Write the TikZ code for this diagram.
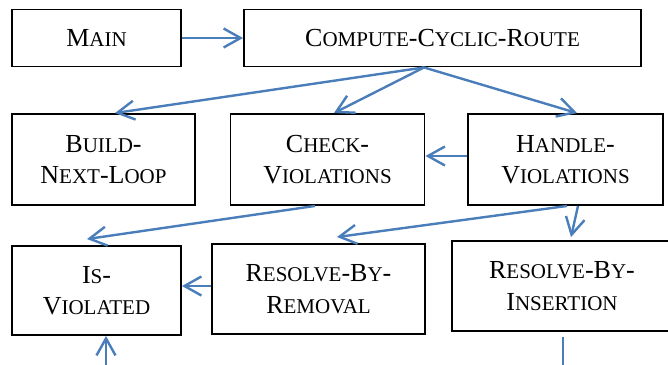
\documentclass[tikz,border=0pt]{standalone}
\usepackage{fontspec}
\setmainfont{Liberation Serif}
\usepackage{tikz}
\usetikzlibrary{arrows.meta}
\definecolor{cblue}{RGB}{74,126,187}
\newcommand{\lowcap}[1]{{\fontsize{21pt}{31.5pt}\selectfont #1}}

\begin{document}
\begin{tikzpicture}[x=1pt,y=1pt,>={Straight Barb[length=17pt,width=19pt]},
  box node/.style={rectangle,draw=black,line width=1.9pt,align=center,inner sep=0pt,
    font=\fontsize{26pt}{31.5pt}\selectfont},
  call/.style={draw=cblue,line width=2.4pt,->}]
  \useasboundingbox (0,0) rectangle (668,-364);
  \node[box node,minimum width=169pt,minimum height=57pt] (main) at (96.5,-38) {M\lowcap{AIN}};
  \node[box node,minimum width=397pt,minimum height=57pt,node distance=346pt] (ccr) [right of=main]
    {C\lowcap{OMPUTE}-C\lowcap{YCLIC}-R\lowcap{OUTE}};
  \node[box node,minimum width=183pt,minimum height=91pt,node distance=121.5pt] (build) [below of=main,xshift=7pt]
    {B\lowcap{UILD}-\\N\lowcap{EXT}-L\lowcap{OOP}};
  \node[box node,minimum width=194pt,minimum height=91pt,node distance=224pt] (check) [right of=build]
    {C\lowcap{HECK}-\\V\lowcap{IOLATIONS}};
  \node[box node,minimum width=195pt,minimum height=91pt,node distance=238pt] (handle) [right of=check]
    {H\lowcap{ANDLE}-\\V\lowcap{IOLATIONS}};
  \node[box node,minimum width=169pt,minimum height=89pt,node distance=131pt] (isv) [below of=build,xshift=-7pt]
    {I\lowcap{S}-\\V\lowcap{IOLATED}};
  \node[box node,minimum width=213pt,minimum height=90pt,node distance=222pt] (rbr) [right of=isv,yshift=1.5pt]
    {R\lowcap{ESOLVE}-B\lowcap{Y}-\\R\lowcap{EMOVAL}};
  \node[box node,minimum width=220pt,minimum height=90pt,node distance=243.5pt] (rbi) [right of=rbr,yshift=3pt]
    {R\lowcap{ESOLVE}-B\lowcap{Y}-\\I\lowcap{NSERTION}};

  % calls leaving the picture at the bottom
  \coordinate (isvfeed) at (106,-372);
  \coordinate (rbiexit) at (562.7,-372);

  \path[call]
    (main) edge (ccr)
    ([xshift=-18.5pt]ccr.south) edge ([xshift=11.5pt]build.north)
    ([xshift=-18.5pt]ccr.south) edge ([xshift=6.5pt]check.north)
    ([xshift=-18.5pt]ccr.south) edge ([xshift=11.5pt]handle.north)
    ([yshift=3.5pt]handle.west) edge ([yshift=3.5pt]check.east)
    ([xshift=-12.5pt]check.south) edge ([xshift=-9.5pt,yshift=6pt]isv.north)
    ([xshift=1.5pt]handle.south) edge ([xshift=18.5pt,yshift=6pt]rbr.north)
    ([xshift=12.5pt]handle.south) edge ([xshift=9pt,yshift=3pt]rbi.north)
    ([yshift=3pt]rbr.west) edge ([yshift=3pt]rbr.west -| isv.east)
    (isvfeed) edge (isvfeed |- isv.south);
  \draw[call,-] ([yshift=-5pt]rbi.south -| rbiexit) -- (rbiexit);
\end{tikzpicture}
\end{document}
